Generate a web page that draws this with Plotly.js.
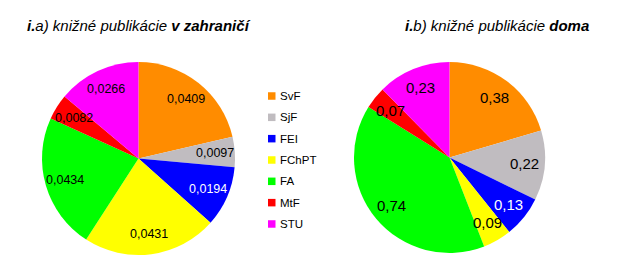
<!DOCTYPE html>
<html><head><meta charset="utf-8">
<script src="https://cdn.plot.ly/plotly-3.0.1.min.js"></script>
<style>html,body{margin:0;padding:0;background:#fff}#chart{width:620px;height:272px}</style>
</head><body><div id="chart"></div>
<script>
const categories = ['SvF','SjF','FEI','FChPT','FA','MtF','STU'];
const valuesAbroad = [0.0409, 0.0097, 0.0194, 0.0431, 0.0434, 0.0082, 0.0266];
const valuesHome = [0.38, 0.22, 0.13, 0.09, 0.74, 0.07, 0.23];
const colors = ['#FF8C00','#C0BCC0','#0000FF','#FFFF00','#00FF00','#FF0000','#FF00FF'];
const labelColors = ['#000','#000','#fff','#000','#000','#000','#000'];
const titleAbroad = '<b>i.</b>a) knižné publikácie <b>v zahraničí</b>';
const titleHome = '<b>i.</b>b) knižné publikácie <b>doma</b>';

const W = 620, H = 272;
const FONT = 'Liberation Sans, Arial, sans-serif';
// pie geometry in pixels (center x, center y from top, radius)
const pie1 = {cx: 138.5, cy: 158.5, r: 96.5};
const pie2 = {cx: 449.5, cy: 157.5, r: 95.5};
function domainOf(p){
  return {x: [(p.cx-p.r)/W, (p.cx+p.r)/W], y: [(H-p.cy-p.r)/H, (H-p.cy+p.r)/H]};
}
function pieTrace(vals, p){
  return {
    type: 'pie', labels: categories, values: vals, sort: false,
    direction: 'clockwise', rotation: 0,
    marker: {colors: colors, line: {width: 0}},
    textinfo: 'none', hoverinfo: 'label+value',
    domain: domainOf(p), showlegend: false
  };
}
function labelAnnots(vals, p, frac, fmt, size){
  const tot = vals.reduce((a,b)=>a+b,0);
  let cum = 0; const out = [];
  vals.forEach((v,i)=>{
    const mid = (cum + v/2)/tot*2*Math.PI; cum += v;
    const x = p.cx + frac*p.r*Math.sin(mid);
    const y = p.cy - frac*p.r*Math.cos(mid);
    out.push({xref:'paper', yref:'paper', x: x/W, y: 1-y/H, showarrow:false,
      text: v.toFixed(fmt).replace('.',','), xanchor:'center', yanchor:'middle',
      font:{family:FONT, size:size, color:labelColors[i]}});
  });
  return out;
}
// legend (one entry per category)
const legX = 268, legY0 = 96, legStep = 21.33, sq = 7.5;
const legendShapes = categories.map((c,i)=>({
  type:'rect', xref:'paper', yref:'paper',
  x0: legX/W, x1: (legX+sq)/W,
  y0: 1-(legY0+i*legStep+sq/2)/H, y1: 1-(legY0+i*legStep-sq/2)/H,
  fillcolor: colors[i], line:{width:0}
}));
const legendTexts = categories.map((c,i)=>({
  xref:'paper', yref:'paper', x:(legX+10)/W, y:1-(legY0+i*legStep)/H,
  xanchor:'left', yanchor:'middle', showarrow:false, text:c,
  font:{family:FONT, size:11.5, color:'#000'}
}));
const annotations = [].concat(
  labelAnnots(valuesAbroad, pie1, 0.79, 4, 12.5),
  labelAnnots(valuesHome, pie2, 0.79, 2, 15),
  legendTexts,
  [
    {xref:'paper', yref:'paper', x:139/W, y:1-25/H, showarrow:false, text: titleAbroad,
     xanchor:'center', yanchor:'middle', font:{family:FONT, size:15, color:'#000', style:'italic'}},
    {xref:'paper', yref:'paper', x:497/W, y:1-25/H, showarrow:false, text: titleHome,
     xanchor:'center', yanchor:'middle', font:{family:FONT, size:15, color:'#000', style:'italic'}}
  ]);
const layout = {
  width: W, height: H, margin: {l:0, r:0, t:0, b:0},
  paper_bgcolor: '#fff', plot_bgcolor: '#fff',
  annotations: annotations, shapes: legendShapes,
  showlegend: false
};
Plotly.newPlot('chart', [pieTrace(valuesAbroad, pie1), pieTrace(valuesHome, pie2)], layout, {displayModeBar:false, staticPlot:true});
</script></body></html>
